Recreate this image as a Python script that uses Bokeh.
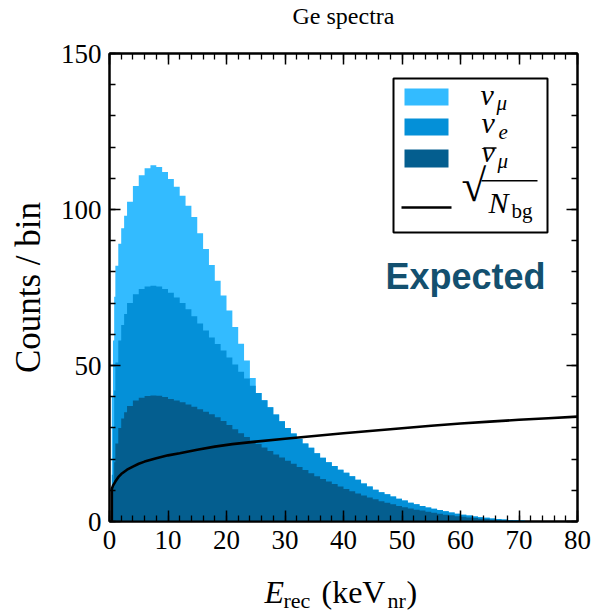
from bokeh.plotting import figure
from bokeh.models import Label, BoxAnnotation, LinearAxis, SingleIntervalTicker
from bokeh.layouts import row, column
from bokeh.embed import file_html
from bokeh.resources import INLINE

# ---------------- data ----------------
# bin edges in keV_nr (finer binning near threshold)
bin_edges = [0.4, 0.6, 0.8, 1.0, 1.5, 2.0, 2.5, 3.0] + list(range(4, 81))

# stacked tops (counts/bin): total (nu_mu on top), nu_e + nubar_mu, nubar_mu
total_top = [40, 58, 72, 82, 89, 94, 98,
             102.5, 107.5, 111.0, 113.2, 114.2, 113.6, 112.0, 109.8, 107.3, 104.4,
             101.2, 97.6, 92.4, 87.3, 82.2, 77.2, 72.4, 67.6, 62.3, 57.0,
             51.6, 46.0, 41.2, 38.9, 36.6, 34.3, 32.1, 30.0, 28.2, 26.5,
             25.0, 23.6, 21.9, 20.4, 19.0, 17.8, 16.6, 15.6, 14.5, 13.4,
             12.2, 11.2, 10.2, 9.4, 8.7, 8.0, 7.3, 6.7, 6.0, 5.5,
             5.0, 4.5, 4.1, 3.7, 3.3, 2.9, 2.5, 2.2, 1.9, 1.6,
             1.4, 1.2, 1.0, 0.8, 0.65, 0.5, 0.4, 0.3, 0.2, 0.15,
             0.1, 0.05, 0, 0, 0, 0, 0]
nue_top = [15, 30, 42, 51, 58, 63, 66.5,
           70.0, 72.8, 74.5, 75.3, 75.6, 75.3, 74.5, 73.3, 71.8, 70.0,
           68.0, 65.8, 63.5, 61.2, 59.0, 56.9, 54.8, 52.6, 50.3, 48.0,
           45.8, 43.5, 41.2, 38.9, 36.6, 34.3, 32.1, 30.0, 28.2, 26.5,
           25.0, 23.6, 21.9, 20.4, 19.0, 17.8, 16.6, 15.6, 14.5, 13.4,
           12.2, 11.2, 10.2, 9.4, 8.7, 8.0, 7.3, 6.7, 6.0, 5.5,
           5.0, 4.5, 4.1, 3.7, 3.3, 2.9, 2.5, 2.2, 1.9, 1.6,
           1.4, 1.2, 1.0, 0.8, 0.65, 0.5, 0.4, 0.3, 0.2, 0.15,
           0.1, 0.05, 0, 0, 0, 0, 0]
numubar_top = [6, 12, 19, 25, 30, 33, 35,
               37.0, 38.8, 39.7, 40.2, 40.4, 40.3, 39.9, 39.3, 38.8, 38.2,
               37.5, 36.8, 36.0, 35.2, 34.4, 33.4, 32.2, 30.9, 29.6, 28.3,
               27.1, 25.9, 24.8, 23.7, 22.6, 21.5, 20.5, 19.5, 18.5, 17.5,
               16.5, 15.5, 14.5, 13.6, 12.8, 12.0, 11.2, 10.4, 9.7, 9.0,
               8.3, 7.7, 7.1, 6.5, 6.0, 5.5, 5.0, 4.6, 4.2, 3.8,
               3.5, 3.1, 2.8, 2.5, 2.2, 2.0, 1.7, 1.5, 1.3, 1.1,
               0.9, 0.8, 0.6, 0.5, 0.4, 0.3, 0.25, 0.2, 0.15, 0.1,
               0.05, 0, 0, 0, 0, 0, 0]

# sqrt(N_bg) curve
bg_x = [0.4, 0.4, 0.6, 1, 1.5, 2, 3, 4, 5, 6, 8, 10, 12, 15, 18, 21, 25, 30,
        35, 40, 45, 50, 55, 60, 65, 70, 75, 80]
bg_y = [0, 10.5, 11.5, 12.8, 14.2, 15.2, 16.6, 17.6, 18.5, 19.2, 20.3, 21.2, 21.9,
        23.0, 24.0, 24.8, 25.6, 26.5, 27.4, 28.3, 29.1, 29.9, 30.7, 31.4, 32.0,
        32.6, 33.1, 33.6]

x_tick_interval = 10
y_tick_interval = 50

LIGHT = "#33BBFF"
MEDIUM = "#0490D8"
DARK = "#045E8F"
SERIF = "Liberation Serif"
K_BASE = 0.38   # correction of the rendered alphabetic baseline (em)

# ---------------- layout geometry ----------------
W = 592
H = 615
LEFT_W = 50      # strip holding the y label
TOP_H = 40       # strip holding the title
BOT_H = 45       # strip holding the x label
MAIN_W = W - LEFT_W
MAIN_H = H - TOP_H - BOT_H
B_LEFT, B_RIGHT = 59, 15
FRAME_X0 = LEFT_W + B_LEFT
FRAME_X1 = W - B_RIGHT

# ---------------- main figure ----------------
p = figure(width=MAIN_W, height=MAIN_H, x_range=(0, 80), y_range=(0, 150),
           output_backend="svg", toolbar_location=None,
           x_axis_location=None, y_axis_location=None,
           min_border_left=B_LEFT, min_border_right=B_RIGHT,
           min_border_top=13, min_border_bottom=49)
p.background_fill_color = "white"
p.border_fill_color = "white"
p.grid.visible = False
p.outline_line_color = "black"
p.outline_line_width = 2


def step_outline(edges, tops):
    xs, ys = [edges[0]], [0]
    for i, t in enumerate(tops):
        xs += [edges[i], edges[i + 1]]
        ys += [t, t]
    xs.append(edges[-1])
    ys.append(0)
    return xs, ys


for tops, col in [(total_top, LIGHT), (nue_top, MEDIUM), (numubar_top, DARK)]:
    xs, ys = step_outline(bin_edges, tops)
    p.patch(xs, ys, fill_color=col, line_color=None)

p.line(bg_x, bg_y, line_color="black", line_width=2.6)

# axes on all four sides, ticks pointing inward
xt = SingleIntervalTicker(interval=x_tick_interval, num_minor_ticks=5)
yt = SingleIntervalTicker(interval=y_tick_interval, num_minor_ticks=5)
ax_b = LinearAxis(ticker=xt)
ax_t = LinearAxis(ticker=xt)
ax_l = LinearAxis(ticker=yt)
ax_r = LinearAxis(ticker=yt)
p.add_layout(ax_b, "below")
p.add_layout(ax_t, "above")
p.add_layout(ax_l, "left")
p.add_layout(ax_r, "right")
for ax in [ax_b, ax_t, ax_l, ax_r]:
    ax.major_tick_in = 11
    ax.major_tick_out = 0
    ax.minor_tick_in = 6
    ax.minor_tick_out = 0
    ax.major_tick_line_color = "black"
    ax.minor_tick_line_color = "black"
    ax.major_tick_line_width = 1.5
    ax.minor_tick_line_width = 1.3
    ax.axis_line_color = "black"
    ax.axis_line_width = 2
    ax.major_label_text_font = SERIF
    ax.major_label_text_font_size = "27px"
    ax.major_label_text_color = "black"
for ax in [ax_t, ax_r]:
    ax.major_label_text_color = None
    ax.major_label_text_font_size = "0px"
    ax.major_label_standoff = 0
ax_l.major_label_standoff = 8
ax_b.major_label_standoff = 9


# ---------- helpers ----------
def main_lab(text, px, py, size, style="normal", font=SERIF, color="black"):
    """Label inside the main frame, given the page pixel position of its baseline."""
    py_eff = py - K_BASE * size
    x = (px - FRAME_X0) / 5.85
    y = ((TOP_H + 13 + 468) - py_eff) / 3.12
    p.add_layout(Label(x=x, y=y, text=text, text_font=font,
                       text_font_size=f"{size}px", text_font_style=style,
                       text_color=color, text_align="left",
                       text_baseline="alphabetic"))


def box(l, r, b, t, fill, line=None, lw=0):
    y0 = TOP_H + 13 + 468
    p.add_layout(BoxAnnotation(left=(l - FRAME_X0) / 5.85,
                               right=(r - FRAME_X0) / 5.85,
                               bottom=(y0 - b) / 3.12, top=(y0 - t) / 3.12,
                               fill_color=fill, fill_alpha=1,
                               line_color=line, line_alpha=1, line_width=lw))


def text_fig(w, h, xr):
    f = figure(width=w, height=h, x_range=xr, y_range=(0, h),
               output_backend="svg", toolbar_location=None,
               x_axis_location=None, y_axis_location=None,
               min_border=0, min_border_top=0, min_border_bottom=0)
    f.grid.visible = False
    f.outline_line_color = None
    f.background_fill_color = "white"
    f.border_fill_color = "white"
    return f


def strip_lab(f, oy, h, text, px, py, size, style="normal", align="left",
              angle=0):
    # x range of each strip is expressed in page pixels
    if angle == 0:
        py = py - K_BASE * size
    else:
        px = px - K_BASE * size
    f.add_layout(Label(x=px, y=(oy + h) - py, text=text, text_font=SERIF,
                       text_font_size=f"{size}px", text_font_style=style,
                       text_color="black", text_align=align,
                       text_baseline="alphabetic", angle=angle,
                       angle_units="deg"))


# title strip (its frame is aligned with the main frame: x 109..577)
tf = text_fig(MAIN_W, TOP_H, (FRAME_X0, FRAME_X1))
tf.min_border_left = B_LEFT
tf.min_border_right = B_RIGHT
strip_lab(tf, 0, TOP_H, "Ge spectra", 343, 25, 24, align="center")

# x-label strip
xf = text_fig(MAIN_W, BOT_H, (FRAME_X0, FRAME_X1))
xf.min_border_left = B_LEFT
xf.min_border_right = B_RIGHT
YO = H - BOT_H
strip_lab(xf, YO, BOT_H, "E", 264, 604, 32, style="italic")
strip_lab(xf, YO, BOT_H, "rec", 283, 608, 22)
strip_lab(xf, YO, BOT_H, "(keV", 321, 604, 32)
strip_lab(xf, YO, BOT_H, "nr", 387, 608, 22)
strip_lab(xf, YO, BOT_H, ")", 406, 604, 32)

# y-label strip
yf = text_fig(LEFT_W, H, (0, LEFT_W))
yf.min_border_left = 0
yf.min_border_right = 0
strip_lab(yf, 0, H, "Counts / bin", 41, 287, 35, align="center", angle=90)

# "Expected"
main_lab("Expected", 385, 290, 36, style="bold", font="Liberation Sans",
         color="#13506F")

# legend
box(393, 547, 232, 78, "white", "black", 2)
box(404, 448, 105, 88, LIGHT)
box(404, 448, 135, 118, MEDIUM)
box(404, 448, 167, 149, DARK)
box(401, 451, 208.3, 205.7, "black")
main_lab("ν", 480, 105, 30, style="italic")
main_lab("μ", 496, 110, 21, style="italic")
main_lab("ν", 481, 133, 30, style="italic")
main_lab("e", 498, 139, 21, style="italic")
main_lab("ν", 481, 162, 30, style="italic")
box(483, 496, 148.2, 146.8, "black")
main_lab("μ", 497, 168, 21, style="italic")
main_lab("√", 461, 203, 45)
box(481, 537, 181, 179.6, "black")
main_lab("N", 488, 213, 30, style="italic")
main_lab("bg", 511, 218, 21)

layout = row(yf, column(tf, p, xf))
open("out.html", "w").write(file_html(layout, INLINE))
